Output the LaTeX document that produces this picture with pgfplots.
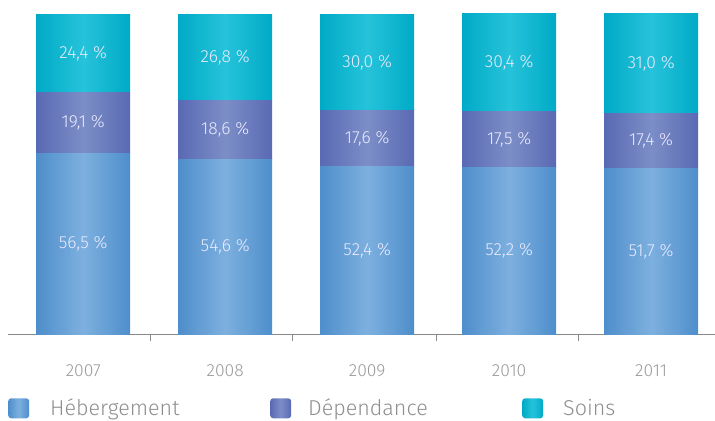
\documentclass[border=0pt]{standalone}
\usepackage{pgfplots}
\pgfplotsset{compat=1.18}
\usepackage{fontspec}
\setmainfont{Fira Sans Light}
\definecolor{hebE}{HTML}{4E8ECB}
\definecolor{hebM}{HTML}{7DB0DF}
\definecolor{depE}{HTML}{5A69B3}
\definecolor{depM}{HTML}{7C8EC7}
\definecolor{soiE}{HTML}{00AAC6}
\definecolor{soiM}{HTML}{26C3DA}
\definecolor{txt}{HTML}{999999}
\definecolor{legtxt}{HTML}{8E8E8E}
\definecolor{axisgray}{HTML}{8A8A8A}
\pgfplotsset{
  common/.style={
    /pgf/number format/assume math mode=true,
    scale only axis, width=707pt, height=320.3pt,
    at={(0,0)}, anchor=south west,
    xmin=-0.53, xmax=4.45, ymin=0, ymax=100.1,
    ybar stacked, bar width=94pt,
    nodes near coords={\pgfmathprintnumber[fixed,fixed zerofill,precision=1,use comma]{\pgfplotspointmeta}\ \%},
    every node near coord/.append style={anchor=center, text=white!92!blue, font=\fontsize{17.5}{17.5}\selectfont},
  },
  heb/.style={draw=none, left color=hebE, right color=hebE, middle color=hebM},
  dep/.style={draw=none, left color=depE, right color=depE, middle color=depM},
  soi/.style={draw=none, left color=soiE, right color=soiE, middle color=soiM},
}
\begin{document}
\begin{tikzpicture}
% 2007 (with axis line, ticks and legend)
\begin{axis}[common,
  axis y line=none, axis x line*=bottom,
  x axis line style={draw=axisgray, line width=1pt},
  xtick={0,1,2,3,4}, xticklabels={2007,2008,2009,2010,2011},
  major tick length=0pt,
  xticklabel style={anchor=base, yshift=-42pt, text=txt, font=\fontsize{17.5}{17.5}\selectfont},
  extra x ticks={0.474,1.477,2.488,3.49}, extra x tick labels={},
  extra x tick style={major tick length=7pt, tick align=outside, tick style={draw=axisgray, line width=1pt}},
  legend image code/.code={\path[#1, rounded corners=3pt] (0pt,-10pt) rectangle (21pt,10pt);},
  legend style={at={(0,0)}, anchor=west, yshift=-74pt, draw=none, fill=none, inner sep=0pt,
    nodes={inner sep=0pt, text=legtxt, font=\fontsize{21.5}{21.5}\selectfont},
    /tikz/every odd column/.append style={column sep=0pt},
    /tikz/every even column/.append style={column sep=0pt}},
  legend columns=3,
]
\addplot[heb] coordinates {(0,56.5)};
\addlegendentry{\makebox[241pt][l]{\hspace*{21pt}Hébergement}}
\addplot[dep] coordinates {(0,19.1)};
\addlegendentry{\makebox[231pt][l]{\hspace*{17pt}Dépendance}}
\addplot[soi] coordinates {(0,24.4)};
\addlegendentry{\hspace*{20pt}Soins}
\end{axis}
% 2008
\begin{axis}[common, hide axis]
\addplot[heb] coordinates {(1,54.6)};
\addplot[dep] coordinates {(1,18.6)};
\addplot[soi] coordinates {(1,26.8)};
\end{axis}
% 2009
\begin{axis}[common, hide axis]
\addplot[heb] coordinates {(2,52.4)};
\addplot[dep] coordinates {(2,17.6)};
\addplot[soi] coordinates {(2,30.0)};
\end{axis}
% 2010
\begin{axis}[common, hide axis]
\addplot[heb] coordinates {(3,52.2)};
\addplot[dep] coordinates {(3,17.5)};
\addplot[soi] coordinates {(3,30.4)};
\end{axis}
% 2011
\begin{axis}[common, hide axis]
\addplot[heb] coordinates {(4,51.7)};
\addplot[dep] coordinates {(4,17.4)};
\addplot[soi] coordinates {(4,31.0)};
\end{axis}
\pgfresetboundingbox
\useasboundingbox (-8pt,-86pt) rectangle (707pt,334.3pt);
\end{tikzpicture}
\end{document}
